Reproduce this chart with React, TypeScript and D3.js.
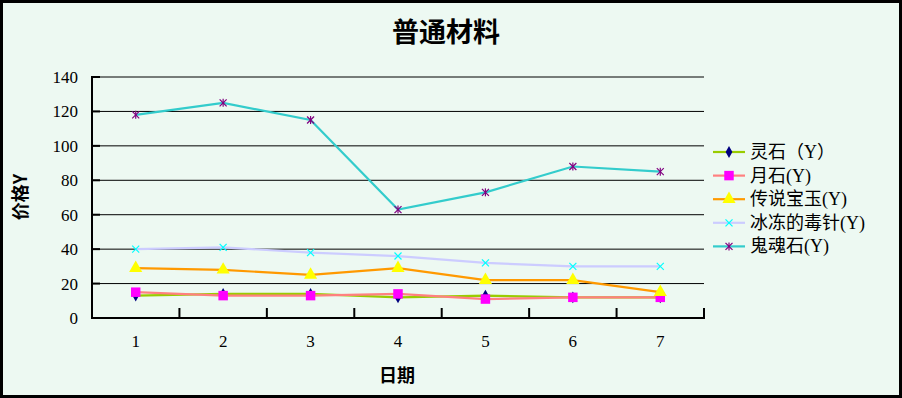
import React from 'react'
import * as d3 from 'd3'

const DAYS = ['1', '2', '3', '4', '5', '6', '7']
const Y_TICKS = [0, 20, 40, 60, 80, 100, 120, 140]

const SERIES_NAMES = ['灵石（Y）', '月石(Y)', '传说宝玉(Y)', '冰冻的毒针(Y)', '鬼魂石(Y)']
const LINGSHI = [13, 14, 14, 12, 13, 12, 12]
const YUESHI = [15, 13, 13, 14, 11, 12, 12]
const BAOYU = [29, 28, 25, 29, 22, 22, 15]
const DUZHEN = [40, 41, 38, 36, 32, 30, 30]
const GUIHUN = [118, 125, 115, 63, 73, 88, 85]

const LINE_COLORS = ['#99cc00', '#ff8080', '#ff9900', '#ccccff', '#33cccc']
const MARK_COLORS = ['#000080', '#ff00ff', '#ffff00', '#00ffff', '#800080']
const MARKS = ['diamond', 'square', 'triangle', 'x', 'star']

const W = 902
const H = 398
const plot = { left: 92, right: 704, top: 77, bottom: 318 }
const BG = '#edf9f2'
const SERIF = "'Liberation Serif', 'Noto Sans CJK SC', serif"
const CJK = "'Noto Sans CJK SC', sans-serif"

function Marker({ kind, x, y, color }: { kind: string; x: number; y: number; color: string }) {
  if (kind === 'x' || kind === 'star') {
    const r = 3.5
    return (
      <g stroke={color} strokeWidth={1.2}>
        <line x1={x - r} y1={y - r} x2={x + r} y2={y + r} />
        <line x1={x - r} y1={y + r} x2={x + r} y2={y - r} />
        {kind === 'star' && <line x1={x} y1={y - r - 0.5} x2={x} y2={y + r + 0.5} />}
      </g>
    )
  }
  const type = kind === 'diamond' ? d3.symbolDiamond : kind === 'square' ? d3.symbolSquare : d3.symbolTriangle
  const size = kind === 'diamond' ? 40 : kind === 'square' ? 90 : 75
  const d = d3.symbol().type(type).size(size)() || ''
  return <path d={d} transform={`translate(${x},${y})`} fill={color} />
}

export default function App() {
  const data = [LINGSHI, YUESHI, BAOYU, DUZHEN, GUIHUN]

  const band = d3.scaleBand().domain(DAYS).range([plot.left, plot.right])
  const x = (d: string) => (band(d) || 0) + band.bandwidth() / 2
  const y = d3.scaleLinear().domain([0, 140]).range([plot.bottom, plot.top])

  const line = d3.line<number>()
    .x((_, i) => x(DAYS[i]))
    .y(v => y(v))

  const bounds = DAYS.map(d => band(d) || 0).concat([plot.right])

  return (
    <>
      <style>{'body{margin:0}'}</style>
      <svg width={W} height={H} style={{ display: 'block' }}>
        <rect x={1.5} y={1.5} width={W - 3} height={H - 3} fill={BG} stroke="#000" strokeWidth={3} />

        <text x={446} y={42} textAnchor="middle" fontFamily={CJK} fontSize={27} fontWeight="bold">普通材料</text>

        {/* grid + y axis */}
        {Y_TICKS.map(t => (
          <g key={t}>
            <line x1={plot.left} x2={plot.right} y1={y(t)} y2={y(t)} stroke="#000" strokeWidth={1} />
            <line x1={plot.left} x2={plot.left + 8} y1={y(t)} y2={y(t)} stroke="#000" strokeWidth={2} />
            <text x={78} y={y(t) + 6} textAnchor="end" fontFamily={SERIF} fontSize={17}>{t}</text>
          </g>
        ))}
        <line x1={plot.left} x2={plot.left} y1={plot.top - 1} y2={plot.bottom + 1} stroke="#000" strokeWidth={2} />
        <line x1={plot.left - 1} x2={plot.right + 1} y1={plot.bottom} y2={plot.bottom} stroke="#000" strokeWidth={2} />
        {bounds.slice(1).map((b, i) => (
          <line key={i} x1={b} x2={b} y1={plot.bottom - 10} y2={plot.bottom} stroke="#000" strokeWidth={2} />
        ))}
        {DAYS.map(d => (
          <text key={d} x={x(d)} y={347} textAnchor="middle" fontFamily={SERIF} fontSize={17}>{d}</text>
        ))}

        <text x={397} y={382} textAnchor="middle" fontFamily={CJK} fontSize={18} fontWeight="bold">日期</text>
        <text transform="translate(27,197) rotate(-90)" textAnchor="middle" fontFamily={CJK} fontSize={18} fontWeight="bold">价格Y</text>

        {/* series */}
        {data.map((vals, si) => (
          <g key={si}>
            <path d={line(vals) || ''} fill="none" stroke={LINE_COLORS[si]} strokeWidth={2.2} />
            {vals.map((v, i) => (
              <Marker key={i} kind={MARKS[si]} x={x(DAYS[i])} y={y(v)} color={MARK_COLORS[si]} />
            ))}
          </g>
        ))}

        {/* legend */}
        {SERIES_NAMES.map((name, si) => {
          const ly = 152 + si * 23.6
          return (
            <g key={name}>
              <line x1={713} x2={745} y1={ly} y2={ly} stroke={LINE_COLORS[si]} strokeWidth={2.2} />
              <Marker kind={MARKS[si]} x={729} y={ly} color={MARK_COLORS[si]} />
              <text x={750} y={ly + 6} fontFamily={SERIF} fontSize={18}>{name}</text>
            </g>
          )
        })}
      </svg>
    </>
  )
}
